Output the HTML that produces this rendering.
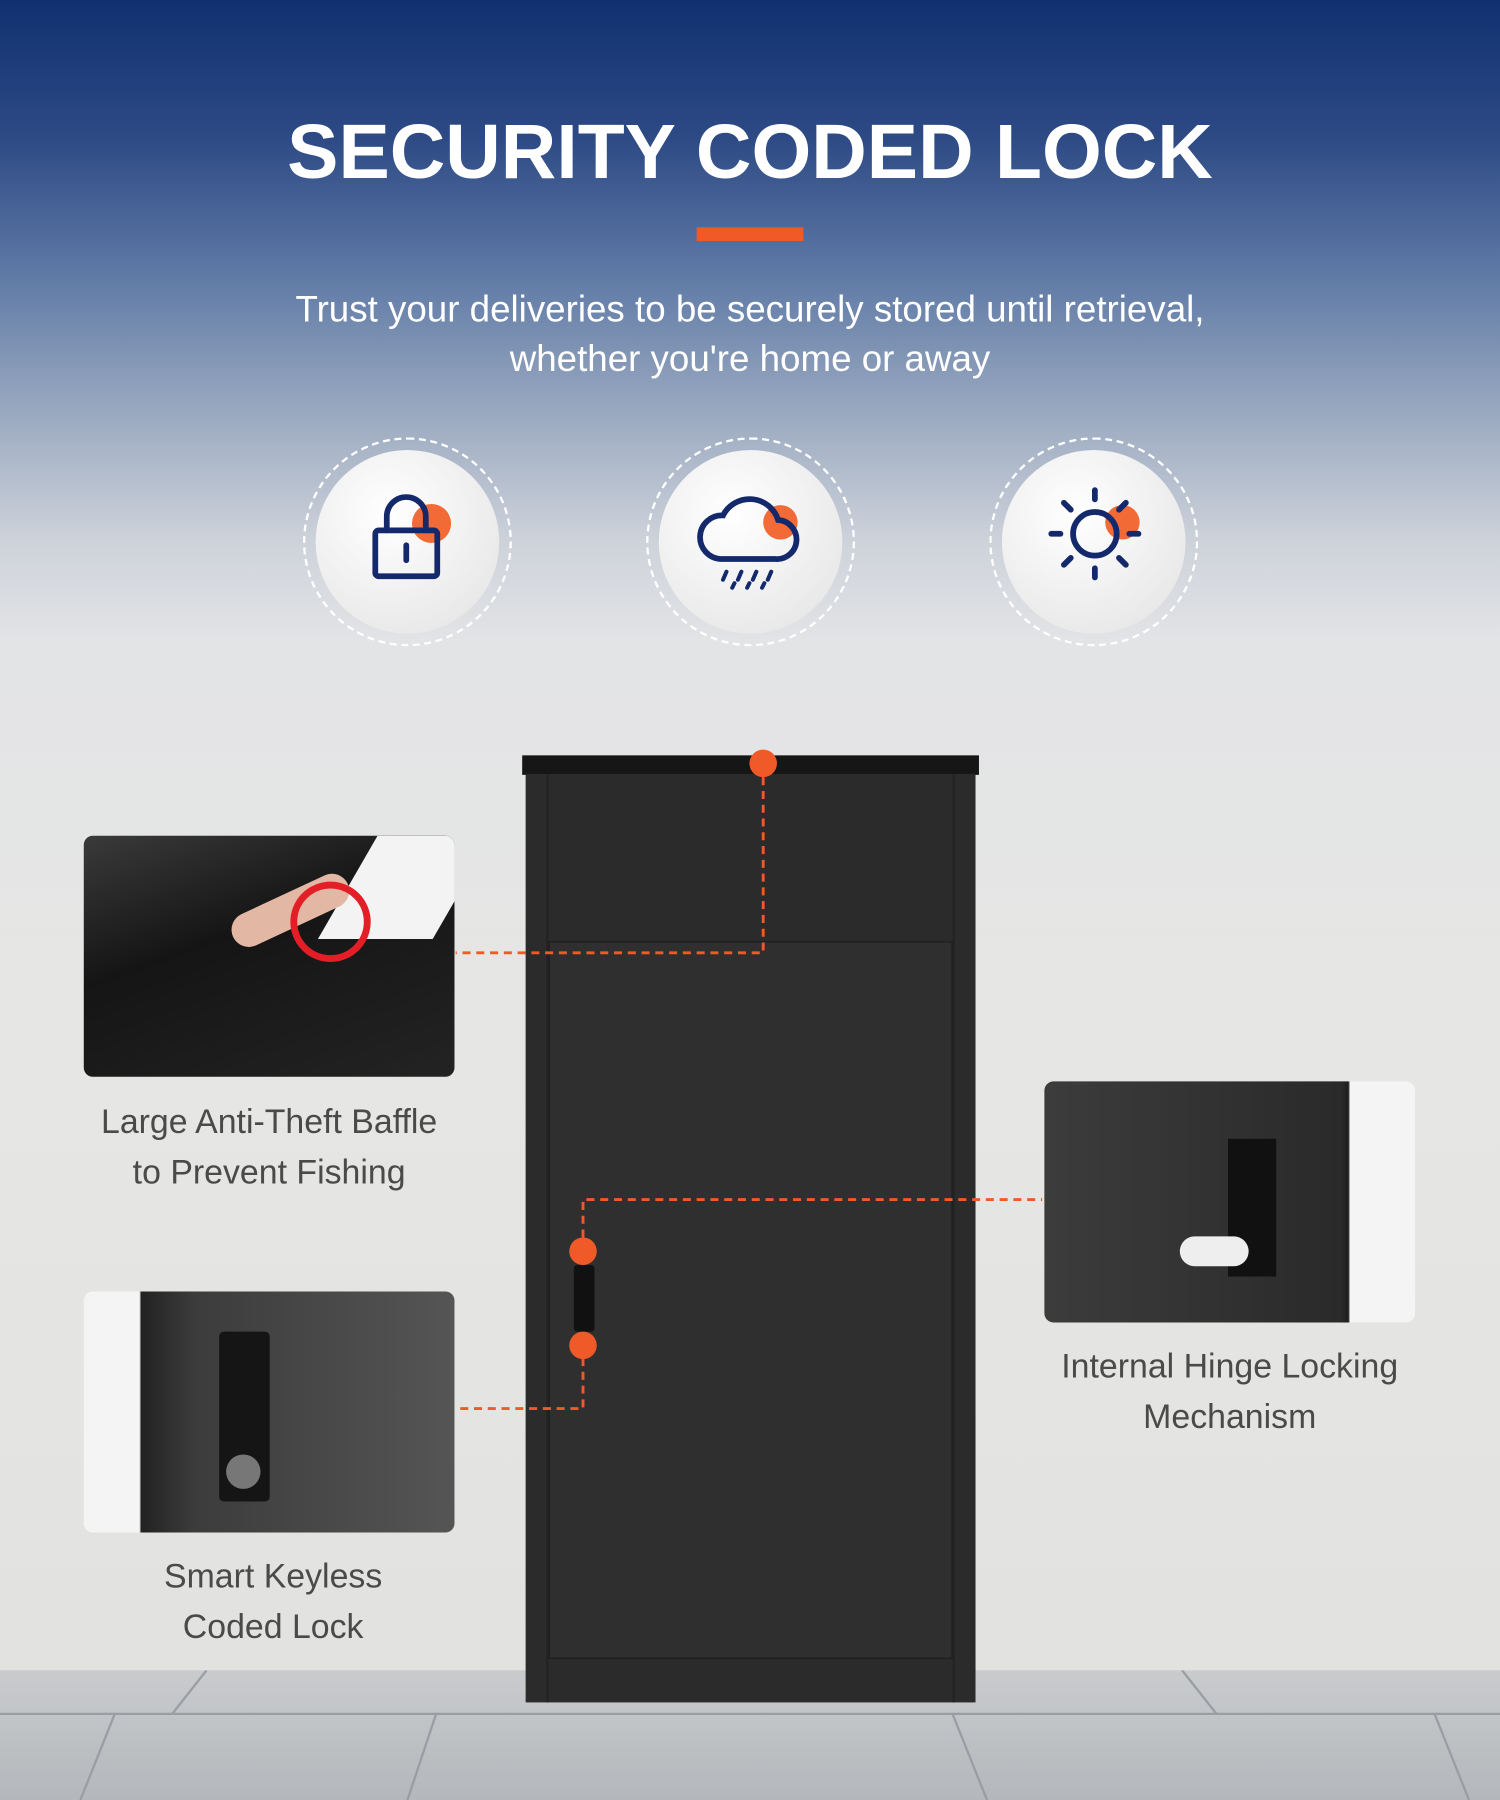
<!DOCTYPE html>
<html><head><meta charset="utf-8"><style>
html,body{margin:0;padding:0;width:1500px;height:1800px;overflow:hidden;background:#e5e5e3}
#s{position:absolute;left:0;top:0;width:1307px;height:1568px;transform:scale(1.14767,1.14796);transform-origin:0 0;
background:linear-gradient(180deg,#10306f 0px,#2d4a85 120px,#5f7aa6 240px,#9aa9c0 360px,#cdd2da 470px,#e3e4e6 560px,#e6e6e4 900px,#e2e2e0 1455px);
font-family:"Liberation Sans",sans-serif;overflow:hidden}
.a{position:absolute}
.t{color:#fff;text-align:center;width:1307px;left:0}
.cap{color:#4a4a4a;font-size:29.5px;text-align:center;line-height:44px}
.circ{position:absolute;width:178px;height:178px;border:2px dashed #fff;border-radius:50%}
.circ .in{position:absolute;left:9px;top:9px;width:160px;height:160px;border-radius:50%;background:radial-gradient(circle at 40% 35%,#fff,#e9e9e9 75%,#dcdcdc)}
</style></head><body><div id="s">
<div class="a" style="left:0;top:1455px;width:1307px;height:113px;background:linear-gradient(180deg,#c9cbcd,#b4b7bb)"></div>
<svg class="a" style="left:0;top:1455px" width="1307" height="113"><g stroke="#9a9ea3" stroke-width="2"><line x1="0" y1="38" x2="1307" y2="38"/><line x1="180" y1="0" x2="150" y2="38"/><line x1="1030" y1="0" x2="1060" y2="38"/><line x1="380" y1="38" x2="355" y2="113"/><line x1="830" y1="38" x2="860" y2="113"/><line x1="100" y1="38" x2="70" y2="113"/><line x1="1250" y1="38" x2="1280" y2="113"/></g></svg>
<div class="a t" style="top:94px;font-size:67px;font-weight:bold;">SECURITY CODED LOCK</div>
<div class="a" style="left:607px;top:198px;width:93px;height:12px;background:#f05a28"></div>
<div class="a t" style="top:248px;font-size:32px;line-height:43px">Trust your deliveries to be securely stored until retrieval,<br>whether you're home or away</div>
<div class="circ" style="left:264px;top:381px"><div class="in"></div></div>
<div class="circ" style="left:563px;top:381px"><div class="in"></div></div>
<div class="circ" style="left:862px;top:381px"><div class="in"></div></div>
<svg class="a" style="left:0;top:0" width="1307" height="600" fill="none" stroke="#13296b" stroke-width="5" stroke-linecap="round">
<circle cx="376" cy="456" r="17" fill="#f26a35" stroke="none"/>
<rect x="327" y="462" width="54" height="40" rx="3"/><path d="M337 462v-12a17 17 0 0 1 34 0v12"/><line x1="354" y1="475" x2="354" y2="488"/>
<circle cx="680" cy="455" r="15" fill="#f26a35" stroke="none"/>
<path d="M628 487h48a17 17 0 0 0 2-34a26 26 0 0 0-48-4a19 19 0 0 0-2 38z"/><path d="M633 498l-3 7M646 498l-3 7M659 498l-3 7M672 498l-3 7M640 508l-2 4M653 508l-2 4M666 508l-2 4" stroke-width="3.5"/>
<circle cx="978" cy="455" r="15" fill="#f26a35" stroke="none"/>
<circle cx="954" cy="465" r="19"/><path d="M954 427v8M954 495v8M916 465h8M984 465h8M927 438l6 6M975 486l6 6M981 438l-6 6M933 486l-6 6"/>
</svg>
<div class="a" style="left:458px;top:675px;width:392px;height:808px;background:#2b2b2b"></div>
<div class="a" style="left:476px;top:675px;width:2px;height:808px;background:#232323"></div>
<div class="a" style="left:830px;top:675px;width:2px;height:808px;background:#232323"></div>
<div class="a" style="left:455px;top:658px;width:398px;height:17px;background:#161616"></div>
<div class="a" style="left:478px;top:820px;width:352px;height:625px;background:#2f2f2f;border:1px solid #1c1c1c;box-sizing:border-box"></div>
<div class="a" style="left:500px;top:1102px;width:18px;height:58px;background:#111;border-radius:3px"></div>
<svg class="a" style="left:0;top:0" width="1307" height="1568">
<g stroke="#f05a28" stroke-width="2.5" stroke-dasharray="7,5" fill="none">
<path d="M665 677V830H397"/><path d="M508 1090V1045H908"/><path d="M508 1183V1227H397"/></g>
<g fill="#f05a28"><circle cx="665" cy="665" r="12"/><circle cx="508" cy="1090" r="12"/><circle cx="508" cy="1172" r="12"/></g>
</svg>
<div class="a" style="left:73px;top:728px;width:323px;height:210px;border-radius:8px;overflow:hidden;background:linear-gradient(160deg,#3a3a3a,#151515 40%,#232323)">
<div class="a" style="left:230px;top:0;width:100px;height:90px;background:#f3f3f3;transform:skewX(-30deg)"></div>
<div class="a" style="left:125px;top:50px;width:110px;height:30px;background:#e2b8a4;border-radius:15px;transform:rotate(-25deg)"></div>
<div class="a" style="left:180px;top:40px;width:58px;height:58px;border:6px solid #e41e26;border-radius:50%"></div>
</div>
<div class="a" style="left:910px;top:942px;width:323px;height:210px;border-radius:8px;overflow:hidden;background:linear-gradient(90deg,#3c3c3c,#2a2a2a 80%,#1d1d1d 82%,#f4f4f4 82.5%)">
<div class="a" style="left:160px;top:50px;width:42px;height:120px;background:#111"></div>
<div class="a" style="left:118px;top:135px;width:60px;height:26px;background:#eee;border-radius:13px"></div>
</div>
<div class="a" style="left:73px;top:1125px;width:323px;height:210px;border-radius:8px;overflow:hidden;background:linear-gradient(90deg,#f4f4f4 15%,#222 15.5%,#3c3c3c 30%,#555)">
<div class="a" style="left:118px;top:35px;width:44px;height:148px;background:#151515;border-radius:4px"></div>
<div class="a" style="left:124px;top:142px;width:30px;height:30px;background:#777;border-radius:50%"></div>
</div>
<div class="a cap" style="left:63px;top:956px;width:343px">Large Anti-Theft Baffle<br>to Prevent Fishing</div>
<div class="a cap" style="left:900px;top:1169px;width:343px">Internal Hinge Locking<br>Mechanism</div>
<div class="a cap" style="left:63px;top:1352px;width:350px">Smart Keyless<br>Coded Lock</div>
</div></body></html>
